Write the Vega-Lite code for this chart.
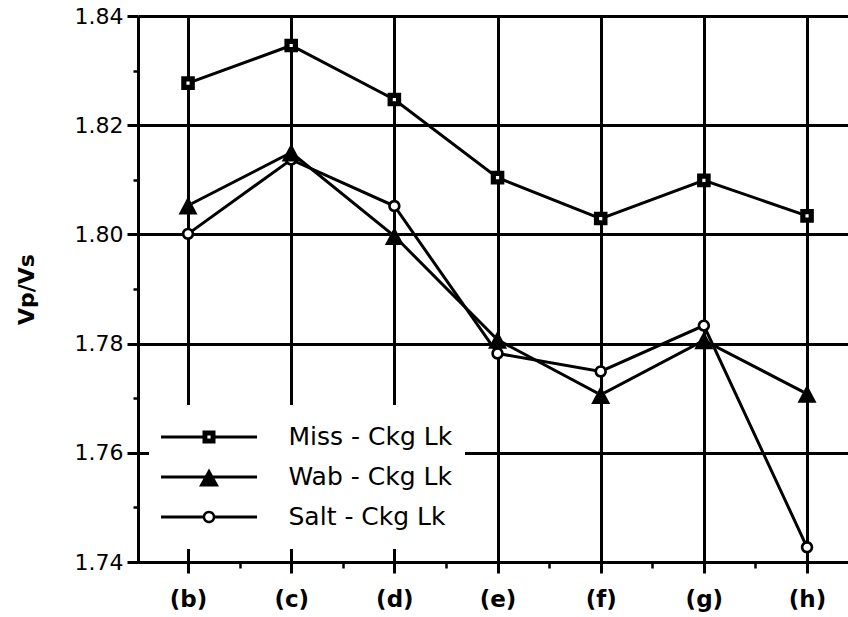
{
  "$schema": "https://vega.github.io/schema/vega-lite/v6.json",
  "width": 710,
  "height": 546,
  "autosize": {"type": "none"},
  "padding": {"left": 138, "top": 16, "right": 0, "bottom": 55},
  "background": "white",
  "config": {"view": {"stroke": null}},
  "data": {
    "values": [
      {"pos": 1, "series": "Miss - Ckg Lk", "v": 1.8277},
      {"pos": 2, "series": "Miss - Ckg Lk", "v": 1.8346},
      {"pos": 3, "series": "Miss - Ckg Lk", "v": 1.8247},
      {"pos": 4, "series": "Miss - Ckg Lk", "v": 1.8104},
      {"pos": 5, "series": "Miss - Ckg Lk", "v": 1.8029},
      {"pos": 6, "series": "Miss - Ckg Lk", "v": 1.8099},
      {"pos": 7, "series": "Miss - Ckg Lk", "v": 1.8034},
      {"pos": 1, "series": "Wab - Ckg Lk", "v": 1.8053},
      {"pos": 2, "series": "Wab - Ckg Lk", "v": 1.8150},
      {"pos": 3, "series": "Wab - Ckg Lk", "v": 1.7997},
      {"pos": 4, "series": "Wab - Ckg Lk", "v": 1.7807},
      {"pos": 5, "series": "Wab - Ckg Lk", "v": 1.7706},
      {"pos": 6, "series": "Wab - Ckg Lk", "v": 1.7806},
      {"pos": 7, "series": "Wab - Ckg Lk", "v": 1.7708},
      {"pos": 1, "series": "Salt - Ckg Lk", "v": 1.8001},
      {"pos": 2, "series": "Salt - Ckg Lk", "v": 1.8137},
      {"pos": 3, "series": "Salt - Ckg Lk", "v": 1.8052},
      {"pos": 4, "series": "Salt - Ckg Lk", "v": 1.7782},
      {"pos": 5, "series": "Salt - Ckg Lk", "v": 1.7749},
      {"pos": 6, "series": "Salt - Ckg Lk", "v": 1.7833},
      {"pos": 7, "series": "Salt - Ckg Lk", "v": 1.7427}
    ]
  },
  "layer": [
    {
      "mark": {"type": "line", "color": "black", "strokeWidth": 3},
      "encoding": {
        "x": {
          "field": "pos", "type": "quantitative",
          "scale": {"domain": [0.515, 7.397], "nice": false, "zero": false},
          "axis": {
            "orient": "bottom", "values": [1, 2, 3, 4, 5, 6, 7],
            "labelExpr": "['', '(b)', '(c)', '(d)', '(e)', '(f)', '(g)', '(h)'][datum.value]",
            "grid": true, "gridColor": "black", "gridWidth": 3, "gridOpacity": 1,
            "tickSize": 11, "tickWidth": 3, "tickColor": "black",
            "domainColor": "black", "domainWidth": 3,
            "labelFont": "DejaVu Sans", "labelFontWeight": "bold", "labelFontSize": 23,
            "labelColor": "black", "labelPadding": 15, "title": null
          }
        },
        "y": {
          "field": "v", "type": "quantitative",
          "scale": {"domain": [1.74, 1.84], "nice": false, "zero": false},
          "axis": {
            "orient": "left", "values": [1.74, 1.76, 1.78, 1.80, 1.82, 1.84], "format": ".2f",
            "grid": true, "gridColor": "black", "gridWidth": 3, "gridOpacity": 1,
            "tickSize": 11, "tickWidth": 3, "tickColor": "black",
            "domainColor": "black", "domainWidth": 3,
            "labelFont": "DejaVu Sans", "labelFontSize": 22, "labelColor": "black", "labelPadding": 4,
            "title": "Vp/Vs", "titleFont": "DejaVu Sans", "titleFontWeight": "bold", "titleFontSize": 22,
            "titleColor": "black", "titlePadding": 36
          }
        },
        "detail": {"field": "series", "type": "nominal"}
      }
    },
    {
      "mark": {"type": "point", "shape": "circle", "filled": true, "color": "white", "size": 64, "opacity": 1},
      "encoding": {
        "x": {
          "field": "pos", "type": "quantitative",
          "axis": {
            "orient": "bottom", "values": [1.5, 2.5, 3.5, 4.5, 5.5, 6.5],
            "labels": false, "domain": false, "grid": false,
            "tickSize": 6, "tickWidth": 2.5, "tickColor": "black", "title": null
          }
        },
        "y": {
          "field": "v", "type": "quantitative",
          "axis": {
            "orient": "left", "values": [1.75, 1.77, 1.79, 1.81, 1.83],
            "labels": false, "domain": false, "grid": false,
            "tickSize": 5, "tickWidth": 2.5, "tickColor": "black", "title": null
          }
        }
      }
    },
    {
      "mark": {"type": "point", "filled": true, "color": "black", "size": 4, "opacity": 1, "strokeWidth": 0},
      "encoding": {
        "x": {"field": "pos", "type": "quantitative", "axis": null},
        "y": {"field": "v", "type": "quantitative", "axis": null},
        "shape": {
          "field": "series", "type": "nominal",
          "scale": {
            "domain": ["Miss - Ckg Lk", "Wab - Ckg Lk", "Salt - Ckg Lk"],
            "range": [
              "M-6.8,-6.8H6.8V6.8H-6.8ZM-1.6,-1.6V1.6H1.6V-1.6Z",
              "M0,-9L9.5,9H-9.5Z",
              "M6.2,0A6.2,6.2 0 1 1 -6.2,0A6.2,6.2 0 1 1 6.2,0ZM3.6,0A3.6,3.6 0 1 0 -3.6,0A3.6,3.6 0 1 0 3.6,0Z"
            ]
          },
          "legend": null
        }
      }
    },
    {
      "mark": {"type": "point", "filled": true, "color": "black", "size": 4, "opacity": 0, "strokeWidth": 0},
      "encoding": {
        "x": {"field": "pos", "type": "quantitative", "axis": null},
        "y": {"field": "v", "type": "quantitative", "axis": null},
        "shape": {
          "field": "series", "type": "nominal",
          "scale": {
            "domain": ["Miss - Ckg Lk", "Wab - Ckg Lk", "Salt - Ckg Lk"],
            "range": [
              "M-48,-1.5H-5V1.5H-48ZM5,-1.5H48V1.5H5ZM-6.5,-6.5H6.5V6.5H-6.5ZM-1.6,-1.6V1.6H1.6V-1.6Z",
              "M-48,-1.5H48V1.5H-48ZM0,-8.5L10,9.5H-10Z",
              "M-48,-1.5H-5V1.5H-48ZM5,-1.5H48V1.5H5ZM6.3,0A6.3,6.3 0 1 1 -6.3,0A6.3,6.3 0 1 1 6.3,0ZM3.8,0A3.8,3.8 0 1 0 -3.8,0A3.8,3.8 0 1 0 3.8,0Z"
            ]
          },
          "legend": {
            "title": null,
            "orient": "none", "legendX": 11, "legendY": 389,
            "fillColor": "white", "padding": 12,
            "clipHeight": 40, "rowPadding": 0,
            "symbolSize": 4, "symbolOffset": 35.5, "labelOffset": 67,
            "symbolStrokeWidth": 0, "symbolOpacity": 1, "symbolFillColor": "black",
            "labelFont": "DejaVu Sans", "labelFontSize": 25, "labelColor": "black", "labelLimit": 400
          }
        }
      }
    }
  ],
  "resolve": {
    "scale": {"shape": "independent"},
    "axis": {"x": "independent", "y": "independent"},
    "legend": {"shape": "independent"}
  }
}
